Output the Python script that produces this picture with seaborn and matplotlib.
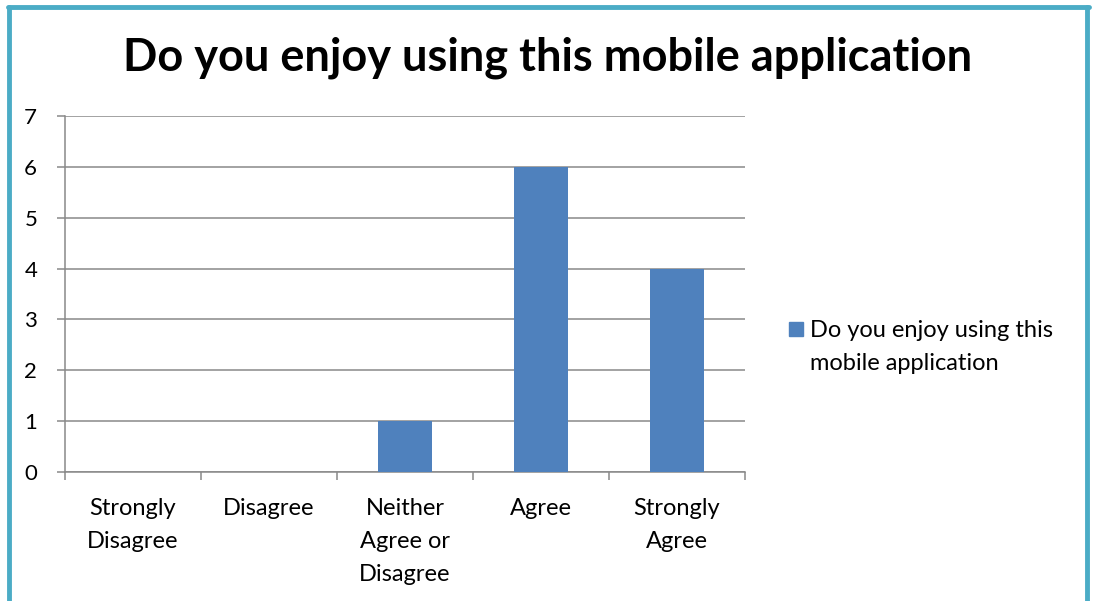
import matplotlib
matplotlib.use("Agg")
import matplotlib.pyplot as plt
import matplotlib.patches as mpatches
import seaborn as sns
import pandas as pd

# data
categories = ["Strongly\nDisagree", "Disagree", "Neither\nAgree or\nDisagree", "Agree", "Strongly\nAgree"]
counts = [0, 0, 1, 6, 4]
series_name = "Do you enjoy using this\nmobile application"
title = "Do you enjoy using this mobile application"

bar_color = "#4F81BD"
grid_color = "#898989"
frame_color = "#4BACC6"

sns.set_theme(style="white")
plt.rcParams["font.family"] = ["Lato", "DejaVu Sans"]

df = pd.DataFrame({"category": categories, "count": counts})

fig = plt.figure(figsize=(10.96, 6.01), dpi=100)
ax = fig.add_axes([65 / 1096, 1 - 472 / 601, 680 / 1096, 356 / 601])

sns.barplot(data=df, x="category", y="count", color=bar_color, width=0.4,
            saturation=1, linewidth=0, ax=ax, zorder=3)

ax.set_ylim(0, 7)
ax.set_xlim(-0.5, len(categories) - 0.5)
ax.set_yticks(range(0, 8))
ax.set_xlabel("")
ax.set_ylabel("")
ax.yaxis.grid(True, color=grid_color, linewidth=1.1, zorder=0)
ax.set_axisbelow(True)

for side in ["top", "right"]:
    ax.spines[side].set_visible(False)
for side in ["left", "bottom"]:
    ax.spines[side].set_color(grid_color)
    ax.spines[side].set_linewidth(1.1)

# y ticks out to the left
ax.tick_params(axis="y", which="major", length=6, width=1.1, color=grid_color,
               labelsize=16, pad=14, left=True, labelcolor="black")
# x ticks at category boundaries
ax.set_xticks([i + 0.5 for i in range(-1, len(categories))], minor=True)
ax.tick_params(axis="x", which="minor", length=6, width=1.1, color=grid_color, bottom=True)
ax.tick_params(axis="x", which="major", length=0, labelsize=17, pad=19, labelcolor="black")
for lbl in ax.get_xticklabels():
    lbl.set_verticalalignment("top")
    lbl.set_linespacing(1.68)

fig.text(548 / 1096, 1 - 58 / 601, title, ha="center", va="center",
         fontsize=32.5, fontweight="bold", color="black")

# legend: square key next to the first line of a two-line label
fig.add_artist(mpatches.Rectangle((789 / 1096, 1 - 336 / 601), 14 / 1096, 14 / 601,
                                  color=bar_color, transform=fig.transFigure))
fig.text(810 / 1096, 1 - 320 / 601, series_name, ha="left", va="top",
         fontsize=17, linespacing=1.68, color="black")

# outer chart frame (bottom edge is cut off in the original)
fig.add_artist(plt.Line2D([9 / 1096, 9 / 1096], [0, 1 - 7 / 601], color=frame_color,
                          linewidth=3.5, transform=fig.transFigure))
fig.add_artist(plt.Line2D([1087 / 1096, 1087 / 1096], [0, 1 - 7 / 601], color=frame_color,
                          linewidth=3.5, transform=fig.transFigure))
fig.add_artist(plt.Line2D([7.5 / 1096, 1088.5 / 1096], [1 - 7 / 601, 1 - 7 / 601],
                          color=frame_color, linewidth=3.5, transform=fig.transFigure))

fig.savefig("out.png", dpi=100)
